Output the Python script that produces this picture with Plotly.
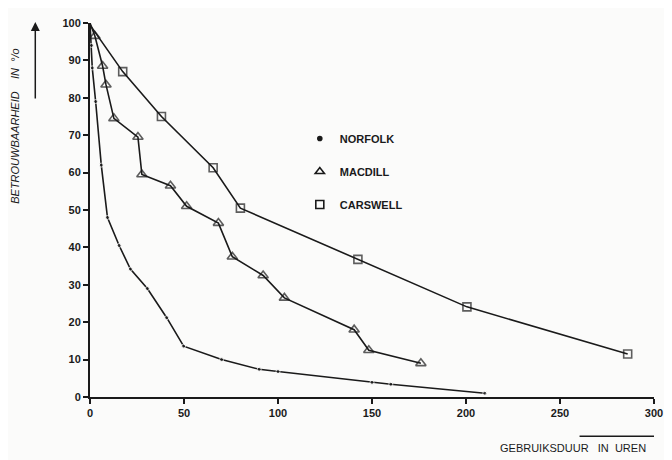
import plotly.graph_objects as go

# ---- data ----
norfolk_x = [0, 0.8, 1.2, 3, 6, 9.3, 15.5, 21.5, 30.5, 40.8, 49.8, 70, 90, 100, 150, 160, 210]
norfolk_y = [100, 94, 88, 79, 62, 48, 40.5, 34.2, 29, 21.2, 13.6, 10, 7.4, 6.8, 3.9, 3.4, 1]

macdill_x = [0, 2.6, 6.7, 8.5, 12.7, 25.5, 27.6, 42.8, 51.4, 68.3, 75.7, 92.1, 103.4, 140.5, 148.3, 176]
macdill_y = [100, 96.5, 88.5, 83.5, 74.5, 69.5, 59.5, 56.5, 51, 46.5, 37.5, 32.5, 26.5, 18, 12.5, 9]

carswell_x = [0, 17.4, 38, 65.5, 80, 142.5, 200.5, 286]
carswell_y = [99.5, 87, 75, 61.3, 50.5, 36.8, 24.1, 11.5]

x_ticks = [0, 50, 100, 150, 200, 250, 300]
y_ticks = [0, 10, 20, 30, 40, 50, 60, 70, 80, 90, 100]

series_names = ["NORFOLK", "MACDILL", "CARSWELL"]

INK = "#1a1a1a"
FONT = "Liberation Sans"
NB = "\u00a0"

fig = go.Figure()

# Norfolk: small filled dots
fig.add_trace(go.Scatter(
    x=norfolk_x, y=norfolk_y, mode="lines+markers", showlegend=False,
    line=dict(color=INK, width=1.6),
    marker=dict(symbol="circle", size=[0] + [4] * (len(norfolk_x) - 1), color=INK),
    cliponaxis=False,
))
# Macdill: open triangles
fig.add_trace(go.Scatter(
    x=macdill_x, y=macdill_y, mode="lines+markers", showlegend=False,
    line=dict(color=INK, width=1.6),
    marker=dict(symbol="triangle-up-open", size=[0] + [9] * (len(macdill_x) - 1),
                color=INK, line=dict(width=1.6)),
    cliponaxis=False,
))
# Carswell: open squares
fig.add_trace(go.Scatter(
    x=carswell_x, y=carswell_y, mode="lines+markers", showlegend=False,
    line=dict(color=INK, width=1.6),
    marker=dict(symbol="square-open", size=[0] + [8] * (len(carswell_x) - 1),
                color=INK, line=dict(width=1.6)),
    cliponaxis=False,
))

# legend-only entries (markers without lines)
legend_symbols = ["circle", "triangle-up-open", "square-open"]
legend_sizes = [4, 8, 8]
for name, sym, sz in zip(series_names, legend_symbols, legend_sizes):
    fig.add_trace(go.Scatter(
        x=[None], y=[None], mode="markers", name=name, legendgroup=name,
        marker=dict(symbol=sym, size=sz, color=INK, line=dict(width=1.6, color=INK)),
    ))

# page body has an 8px default margin: shrink the figure to compensate
fig.update_layout(
    width=664, height=452,
    margin=dict(l=82, r=14, t=9, b=63),
    paper_bgcolor="#fbfbfa", plot_bgcolor="#fbfbfa",
    font=dict(family=FONT, size=11, color=INK),
    legend=dict(
        x=0.372, y=0.73, xanchor="left", yanchor="top",
        bgcolor="rgba(0,0,0,0)", tracegroupgap=14,
        font=dict(family=FONT, size=11, color=INK, weight="bold"),
        itemwidth=30,
    ),
    xaxis=dict(
        range=[0, 300], tickvals=x_ticks, ticktext=[str(v) for v in x_ticks],
        showgrid=False, zeroline=False, showline=True, linecolor=INK, linewidth=2,
        ticks="outside", ticklen=5, tickwidth=1.5, tickcolor=INK,
        tickfont=dict(family=FONT, size=11, color=INK, weight="bold"),
    ),
    yaxis=dict(
        range=[0, 100], tickvals=y_ticks, ticktext=[str(v) for v in y_ticks],
        showgrid=False, zeroline=False, showline=True, linecolor=INK, linewidth=2,
        ticks="outside", ticklen=5, tickwidth=1.5, tickcolor=INK,
        tickfont=dict(family=FONT, size=11, color=INK, weight="bold"),
    ),
)

# y-axis title (rotated, italic) and arrow
fig.add_annotation(
    xref="paper", yref="paper", x=-0.132, y=0.724,
    text="BETROUWBAARHEID" + NB * 4 + "IN" + NB * 2 + "°/o", textangle=-90, showarrow=False,
    font=dict(family=FONT, size=11, color=INK, style="italic"),
    xanchor="center", yanchor="middle",
)
fig.add_annotation(
    xref="paper", yref="paper", x=-0.097, y=1.003,
    ax=0, ay=78, text="", showarrow=True,
    arrowhead=2, arrowsize=1.2, arrowwidth=1.5, arrowcolor=INK,
)

# x-axis title bottom right with overline above "IN UREN"
fig.add_annotation(
    xref="paper", yref="paper", x=0.99, y=-0.137,
    text="GEBRUIKSDUUR" + NB * 3 + "IN" + NB * 2 + "UREN", showarrow=False,
    font=dict(family=FONT, size=11, color=INK),
    xanchor="right", yanchor="middle",
)
fig.add_shape(
    type="line", xref="paper", yref="paper",
    x0=0.868, x1=1.0, y0=-0.105, y1=-0.105,
    line=dict(color=INK, width=1.5),
)

fig.write_html("out.html")
